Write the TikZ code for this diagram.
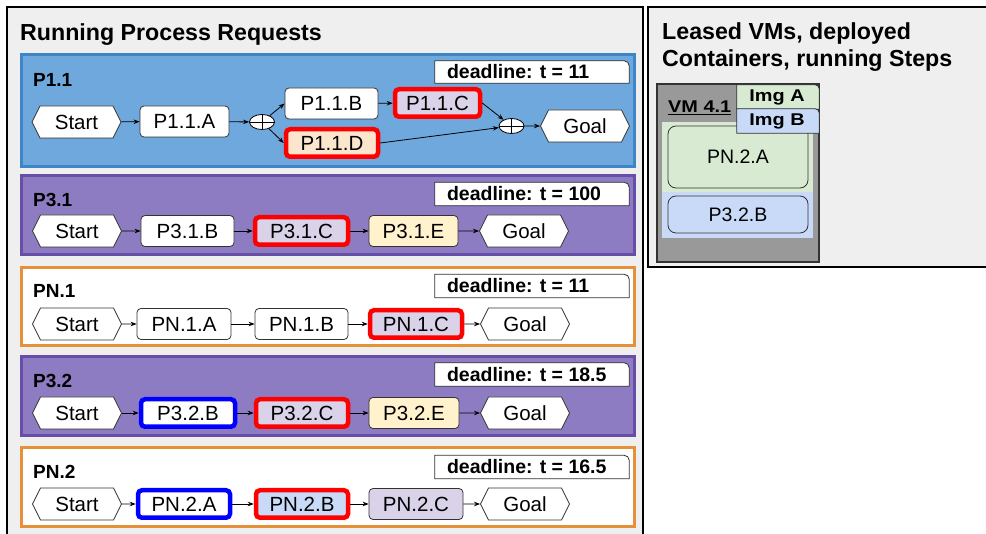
\documentclass[tikz,border=0pt]{standalone}
\usepackage{fontspec}
\usepackage{graphicx}
\setmainfont{Liberation Sans}
\usetikzlibrary{shapes.symbols,shapes.geometric,arrows.meta}
\pgfdeclarelayer{back}
\pgfdeclarelayer{mid}
\pgfdeclarelayer{front}
\pgfdeclarelayer{top}
\pgfsetlayers{back,mid,main,front,top}
\definecolor{panelbg}{HTML}{EFEFEF}
\definecolor{pblue}{HTML}{6FA8DC}
\definecolor{pblueb}{HTML}{3D85C6}
\definecolor{ppur}{HTML}{8E7CC3}
\definecolor{ppurb}{HTML}{674EA7}
\definecolor{porange}{HTML}{E69138}
\definecolor{lav}{HTML}{D9D2E9}
\definecolor{peach}{HTML}{FCE5CD}
\definecolor{lyellow}{HTML}{FFF2CC}
\definecolor{lblue}{HTML}{C9DAF8}
\definecolor{lgreen}{HTML}{D9EAD3}
\definecolor{vmgray}{HTML}{999999}
\definecolor{edge}{HTML}{333333}
\begin{document}
\begin{tikzpicture}[x=1pt,y=-1pt,
  stepbox/.style={rectangle, rounded corners=4pt, draw=edge, line width=0.8pt, fill=white,
    minimum height=31pt, inner sep=0pt, font=\fontsize{20.5}{24}\selectfont},
  redbox/.style={stepbox, draw=red, line width=4.5pt, minimum height=27.5pt},
  bluebox/.style={stepbox, draw=blue, line width=4.5pt, minimum height=27.5pt},
  term/.style={signal, signal to=west and east, signal pointer angle=127, draw=edge,
    line width=0.8pt, fill=white, minimum width=89pt, minimum height=32pt, inner sep=0pt,
    font=\fontsize{20.5}{24}\selectfont},
  gate/.style={ellipse, draw=black, line width=0.8pt, fill=white, minimum width=25pt,
    minimum height=15pt, inner sep=0pt,
    path picture={\draw[line width=0.8pt]
      (path picture bounding box.north) -- (path picture bounding box.south)
      (path picture bounding box.west) -- (path picture bounding box.east);}},
  arr/.style={-{Stealth[length=6pt,width=4.5pt]}, line width=0.8pt, black},
  plabel/.style={anchor=base west, inner sep=0pt, font=\fontsize{19}{23}\selectfont\bfseries},
  dlbox/.style={minimum width=194pt, minimum height=23pt, inner xsep=12pt, inner ysep=0pt,
    font=\fontsize{19.5}{23}\selectfont\bfseries},
  frame/.style={draw=edge, line width=0.8pt, fill=white},
  title/.style={anchor=base west, inner sep=0pt, font=\fontsize{23.2}{27}\selectfont\bfseries},
  vmstep/.style={rectangle, rounded corners=8pt, draw=edge, line width=0.8pt,
    minimum width=140pt, inner sep=0pt, font=\fontsize{19.5}{23}\selectfont},
  tabtext/.style={minimum width=82pt, minimum height=24pt, inner sep=0pt,
    font=\fontsize{17}{20}\selectfont\bfseries}
]
\clip (0,0) rectangle (986,534);

% ---------- panels ----------
\begin{pgfonlayer}{back}
\draw[fill=panelbg, line width=2pt] (7,7) rectangle (643,545);
\draw[fill=panelbg, line width=2pt] (648,7) rectangle (995,267);
\draw[fill=pblue, draw=pblueb, line width=3pt] (21,55) rectangle (634,167);
\draw[fill=ppur, draw=ppurb, line width=3pt] (21,176) rectangle (634,255);
\draw[fill=white, draw=porange, line width=3pt] (21,268) rectangle (634,346);
\draw[fill=ppur, draw=ppurb, line width=3pt] (21,357) rectangle (634,436);
\draw[fill=white, draw=porange, line width=3pt] (21,448) rectangle (634,527);
\end{pgfonlayer}

\node[title] (ttl) at (20,41) {Running Process Requests};
\node[title] (ttr1) at (662,40) {Leased VMs, deployed};
\node[title] (ttr2) at (662,67) {Containers, running Steps};

% ---------- labels and deadlines ----------
\node[plabel] (l1) at (33,87) {P1.1};
\node[plabel] (l2) at (33,207) {P3.1};
\node[plabel] (l3) at (33,298) {PN.1};
\node[plabel] (l4) at (33,388) {P3.2};
\node[plabel] (l5) at (33,479) {PN.2};

\node[dlbox, minimum height=22pt] (dl1) at (532,72) {\makebox[170pt][l]{deadline: t = 11}};
\node[dlbox] (dl2) at (532,194) {\makebox[170pt][l]{deadline: t = 100}};
\node[dlbox] (dl3) at (532,286) {\makebox[170pt][l]{deadline: t = 11}};
\node[dlbox] (dl4) at (532,374.5) {\makebox[170pt][l]{deadline: t = 18.5}};
\node[dlbox] (dl5) at (532,467) {\makebox[170pt][l]{deadline: t = 16.5}};
\begin{pgfonlayer}{mid}
\foreach \n in {dl1,dl2,dl3,dl4,dl5}
  \draw[frame] (\n.south west) -- (\n.north west) -- ([xshift=-5pt]\n.north east)
    arc[start angle=90, end angle=0, radius=5pt] -- (\n.south east) -- cycle;
\end{pgfonlayer}

% ---------- P1.1 ----------
\node[term] (s1) at (76.5,122) {Start};
\node[stepbox, minimum width=89pt] (a1) at (184.5,121.5) {P1.1.A};
\node[gate] (g1) at (262,122) {};
\node[stepbox, minimum width=93pt] (b1) at (331.5,103.5) {P1.1.B};
\node[redbox, fill=lav, minimum width=85pt] (c1) at (437.5,103) {P1.1.C};
\node[redbox, fill=peach, minimum width=92pt] (d1) at (332,143) {P1.1.D};
\node[gate] (g2) at (511.5,126) {};
\node[term] (e1) at (585,126) {Goal};
\draw[arr] (s1) -- (a1);
\draw[arr] (a1) -- (g1);
\draw[arr] (g1) -- (b1.west);
\draw[arr] (g1) -- (d1.west);
\draw[arr] (b1) -- (c1);
\draw[arr] (c1.east) -- (g2);
\draw[arr] (d1.east) -- (g2);
\draw[arr] (g2) -- (e1);

% ---------- P3.1 ----------
\node[term] (s2) at (77,231) {Start};
\node[stepbox, minimum width=93pt] (b2) at (187.5,231) {P3.1.B};
\node[redbox, fill=lav, minimum width=93pt] (c2) at (301.5,231) {P3.1.C};
\node[stepbox, fill=lyellow, minimum width=89pt] (e2) at (413.5,231) {P3.1.E};
\node[term] (f2) at (524,231) {Goal};
\draw[arr] (s2) -- (b2);
\draw[arr] (b2) -- (c2);
\draw[arr] (c2) -- (e2);
\draw[arr] (e2) -- (f2);

% ---------- PN.1 ----------
\node[term] (s3) at (77,324) {Start};
\node[stepbox, minimum width=94pt] (a3) at (184,324) {PN.1.A};
\node[stepbox, minimum width=93pt] (b3) at (301.5,324) {PN.1.B};
\node[redbox, fill=lav, minimum width=92pt] (c3) at (416,324) {PN.1.C};
\node[term] (f3) at (525,324) {Goal};
\draw[arr] (s3) -- (a3);
\draw[arr] (a3) -- (b3);
\draw[arr] (b3) -- (c3);
\draw[arr] (c3) -- (f3);

% ---------- P3.2 ----------
\node[term] (s4) at (77,413) {Start};
\node[bluebox, minimum width=94pt] (b4) at (188,413) {P3.2.B};
\node[redbox, fill=lav, minimum width=92pt] (c4) at (302,413) {P3.2.C};
\node[stepbox, fill=lyellow, minimum width=90pt] (e4) at (414,413) {P3.2.E};
\node[term] (f4) at (525,413) {Goal};
\draw[arr] (s4) -- (b4);
\draw[arr] (b4) -- (c4);
\draw[arr] (c4) -- (e4);
\draw[arr] (e4) -- (f4);

% ---------- PN.2 ----------
\node[term] (s5) at (77,504) {Start};
\node[bluebox, minimum width=92pt] (a5) at (184,504) {PN.2.A};
\node[redbox, fill=lblue, minimum width=92pt] (b5) at (302,504) {PN.2.B};
\node[stepbox, fill=lav, minimum width=94pt] (c5) at (416,504) {PN.2.C};
\node[term] (f5) at (525,504) {Goal};
\draw[arr] (s5) -- (a5);
\draw[arr] (a5) -- (b5);
\draw[arr] (b5) -- (c5);
\draw[arr] (c5) -- (f5);

% ---------- VM ----------
\draw[fill=vmgray, draw=edge, line width=1.2pt] (657,84) rectangle (819,262);
\fill[lgreen] (662,122) rectangle (813,192);
\fill[lblue] (662,192) rectangle (813,238);
\node[vmstep, fill=lgreen, minimum height=62pt] (v1) at (738,157) {PN.2.A};
\node[vmstep, fill=lblue, minimum height=37pt] (v2) at (738,214.5) {P3.2.B};
\node[anchor=base west, inner sep=0pt, font=\fontsize{17}{20}\selectfont\bfseries] (vm) at (668,113)
  {\scalebox{1.17}[1]{\underline{VM 4.1}}};
\begin{pgfonlayer}{top}
\node[tabtext] (imga) at (777,97) {\scalebox{1.17}[1]{Img A}};
\node[tabtext] (imgb) at (777,121) {\scalebox{1.17}[1]{Img B}};
\end{pgfonlayer}
\begin{pgfonlayer}{front}
\draw[frame, fill=lgreen] ([xshift=1pt]imga.south west) -- ([xshift=1pt]imga.north west) -- ([xshift=-3pt]imga.north east)
  arc[start angle=90, end angle=0, radius=4pt] -- ([xshift=1pt]imga.south east) -- cycle;
\draw[frame, fill=lblue] ([xshift=1pt]imgb.south west) -- ([xshift=1pt]imgb.north west) -- ([xshift=-3pt]imgb.north east)
  arc[start angle=90, end angle=0, radius=4pt] -- ([xshift=1pt]imgb.south east) -- cycle;
\end{pgfonlayer}
\end{tikzpicture}
\end{document}
